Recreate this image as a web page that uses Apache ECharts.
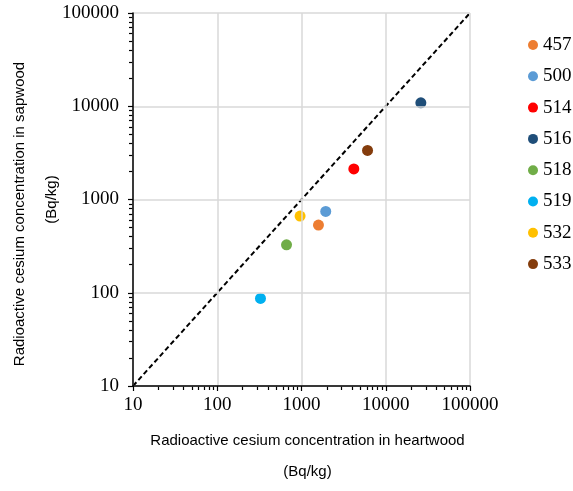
<!DOCTYPE html>
<html><head><meta charset="utf-8">
<script src="https://cdn.jsdelivr.net/npm/echarts@6/dist/echarts.min.js"></script>
<style>html,body{margin:0;padding:0;background:#fff}#c{width:573px;height:491px}</style>
</head><body><div id="c"></div>
<script>
var trees = ['457','500','514','516','518','519','532','533'];
var heartwood = [1590, 1940, 4180, 26100, 664, 326, 962, 6080];
var sapwood = [532, 745, 2130, 10870, 327, 87, 664, 3360];
var colors = ['#ED7D31','#5B9BD5','#FF0000','#1F4E79','#70AD47','#00B0F0','#FFC000','#843C0C'];
var tickLabels = [10, 100, 1000, 10000, 100000];
var lineEnds = [[10,10],[100000,100000]];

var minorVals = [];
for (var d = 0; d < tickLabels.length - 1; d++) {
  for (var k = 2; k < 10; k++) minorVals.push(tickLabels[d] * k);
}
var serif = 'Liberation Serif', sans = 'Liberation Sans';
var nameStyle = { fontFamily: sans, fontSize: 15, color: '#000', lineHeight: 31 };
function axis(name, isY, gap, pad) {
  return {
    type: 'log', logBase: 10, min: 10, max: 100000,
    name: name, nameLocation: 'middle', nameGap: gap, nameRotate: isY ? 90 : 0,
    nameMoveOverlap: false,
    nameTextStyle: Object.assign({ padding: pad }, nameStyle),
    axisLine: { show: true, onZero: false, lineStyle: { color: '#000', width: 1.5 } },
    axisTick: { show: true, inside: false, length: 5, customValues: tickLabels, lineStyle: { color: '#000', width: 1.2 } },
    minorTick: { show: false },
    axisLabel: { fontFamily: serif, fontSize: 19, color: '#000', margin: isY ? 14 : 10, customValues: tickLabels,
      formatter: function (v) { return String(v); } },
    splitLine: { show: true, lineStyle: { color: '#d9d9d9', width: 1.5 } },
    z: 5
  };
}
function minorAxis(name, isY, gap) {
  return {
    type: 'log', logBase: 10, min: 10, max: 100000,
    name: name || '', nameLocation: 'middle', nameGap: gap || 0, nameRotate: isY ? 90 : 0,
    nameMoveOverlap: false, nameTextStyle: nameStyle,
    axisLine: { show: false, onZero: false },
    axisTick: { show: true, inside: false, length: 4, customValues: minorVals, lineStyle: { color: '#000', width: 1.2 } },
    axisLabel: { show: false },
    splitLine: { show: false },
    minorTick: { show: false }
  };
}
var series = trees.map(function (t, i) {
  return { name: t, type: 'scatter', symbol: 'circle', symbolSize: 11,
    itemStyle: { color: colors[i], opacity: 1 }, data: [[heartwood[i], sapwood[i]]], z: 3 };
});
series.push({ name: 'y=x', type: 'line', data: lineEnds, symbol: 'none', silent: true,
  lineStyle: { color: '#000', width: 2, type: [5, 3] }, z: 2 });
var xMinor = minorAxis('', false, 0); xMinor.position = 'bottom';
var yMinor = minorAxis('(Bq/kg)', true, 65.5); yMinor.position = 'left';
var chart = echarts.init(document.getElementById('c'), null, { renderer: 'canvas' });
chart.setOption({
  animation: false,
  backgroundColor: '#fff',
  grid: { left: 133, top: 13, right: 103, bottom: 105, containLabel: false, outerBoundsMode: 'none' },
  xAxis: [axis('Radioactive cesium concentration in heartwood\n(Bq/kg)', false, 39.5, [0, 0, 0, 12]), xMinor],
  yAxis: [axis('Radioactive cesium concentration in sapwood', true, 97.5, [0, 29, 0, 0]), yMinor],
  legend: { data: trees, orient: 'vertical', left: 523, top: 30, icon: 'circle',
    itemWidth: 10, itemHeight: 10, itemGap: 11.3,
    textStyle: { fontFamily: serif, fontSize: 19, color: '#000', lineHeight: 20 } },
  series: series
});
</script></body></html>
